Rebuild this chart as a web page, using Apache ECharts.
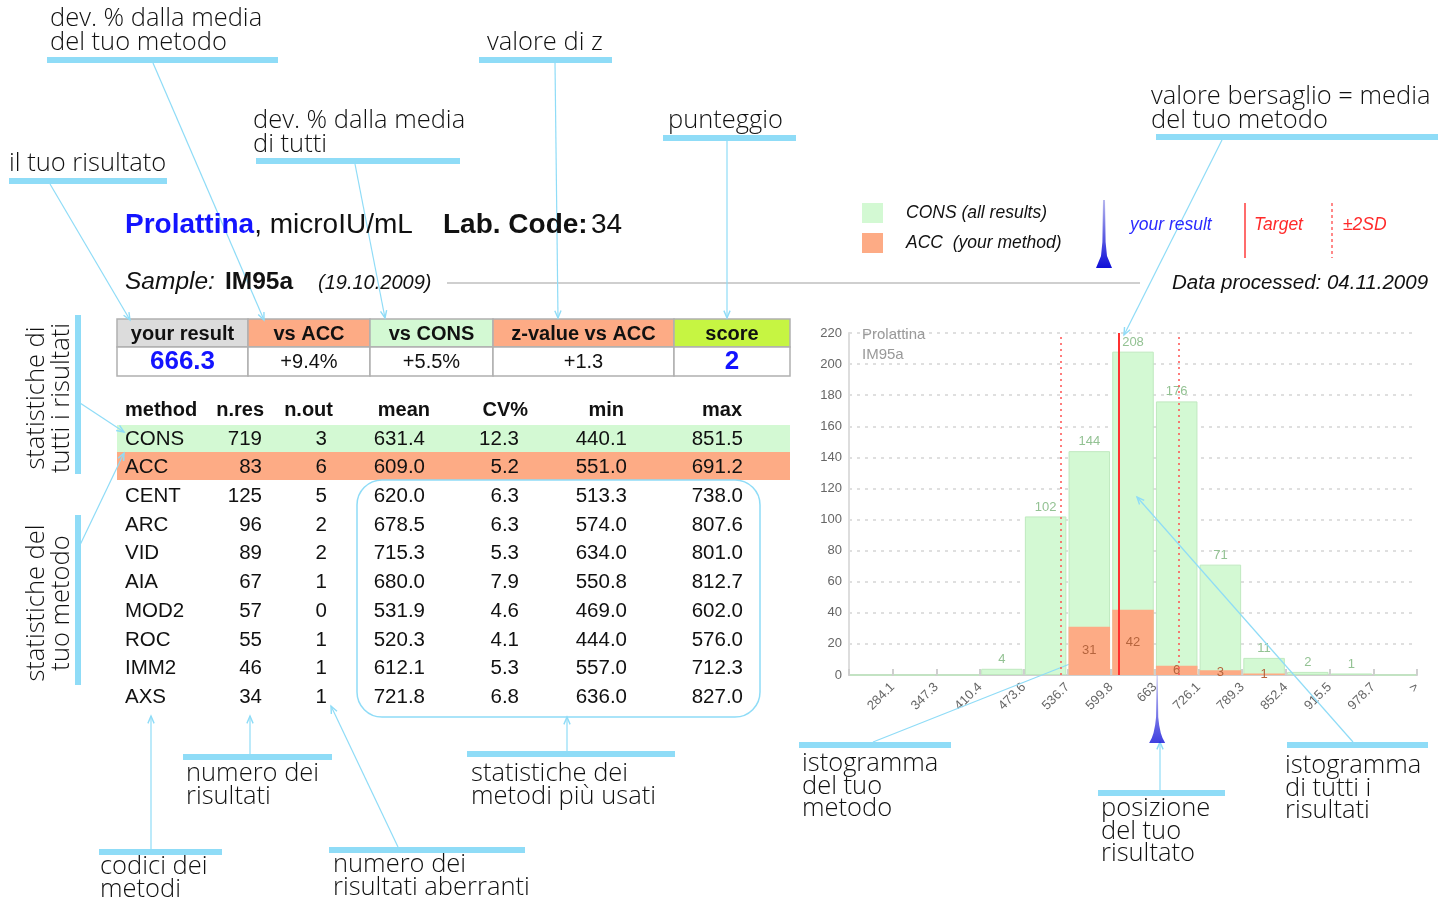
<!DOCTYPE html>
<html><head><meta charset="utf-8">
<script src="https://cdn.jsdelivr.net/npm/echarts@6/dist/echarts.min.js"></script>
<style>html,body{margin:0;padding:0;background:#fff}#c{width:1455px;height:904px}</style>
</head><body><div id="c"></div><script>
// ---------- data ----------
const binEdges = [284.1, 347.3, 410.4, 473.6, 536.7, 599.8, 663, 726.1, 789.3, 852.4, 915.5, 978.7, 1041.8];
const binCategories = ['b1','b2','b3','b4','b5','b6','b7','b8','b9','b10','b11','b12','b13'];
const consCounts = [0, 0, 0, 4, 102, 144, 208, 176, 71, 11, 2, 1, 0];
const accCounts  = [0, 0, 0, 0, 0, 31, 42, 6, 3, 1, 0, 0, 0];
const axisMin = 221.0, axisMax = 1041.8;
const yourResult = 666.3;
const targetValue = 611;
const sdLow = 527, sdHigh = 698;
const yTicks = {min: 0, max: 220, interval: 20};

const summaryHeaders = ['your result', 'vs ACC', 'vs CONS', 'z-value vs ACC', 'score'];
const summaryValues = ['666.3', '+9.4%', '+5.5%', '+1.3', '2'];

const statHeaders = ['method', 'n.res', 'n.out', 'mean', 'CV%', 'min', 'max'];
const methods = ['CONS', 'ACC', 'CENT', 'ARC', 'VID', 'AIA', 'MOD2', 'ROC', 'IMM2', 'AXS'];
const nRes  = ['719', '83', '125', '96', '89', '67', '57', '55', '46', '34'];
const nOut  = ['3', '6', '5', '2', '2', '1', '0', '1', '1', '1'];
const means = ['631.4', '609.0', '620.0', '678.5', '715.3', '680.0', '531.9', '520.3', '612.1', '721.8'];
const cvs   = ['12.3', '5.2', '6.3', '6.3', '5.3', '7.9', '4.6', '4.1', '5.3', '6.8'];
const mins  = ['440.1', '551.0', '513.3', '574.0', '634.0', '550.8', '469.0', '444.0', '557.0', '636.0'];
const maxs  = ['851.5', '691.2', '738.0', '807.6', '801.0', '812.7', '602.0', '576.0', '712.3', '827.0'];

// ---------- styles ----------
const F = '"Liberation Sans", Arial, Helvetica, sans-serif';
const AF = '"Open Sans", "Noto Sans", sans-serif';
const AFONT = '300 25.5px ' + AF;
const GREEN = '#d3f9d3', ORANGE = '#fdab85', LIME = '#c6f542', GREY = '#dcdcdc';
const BLUE_ANN = '#8fdcf7';
const SPIKE = 'path://M48.5,0 L51.5,0 L53,62 Q57,88 72,100 L28,100 Q43,88 47,62 Z';
function spikeGrad() {
  return new echarts.graphic.LinearGradient(0, 0, 0, 1, [{offset: 0, color: '#b8b8ee'}, {offset: 1, color: '#1010d8'}]);
}

const g = [];
function txt(x, y, text, font, fill, align, extra) {
  g.push(Object.assign({type: 'text', x: x, y: y, z: 10,
    style: {text: text, font: font, fill: fill || '#111', textAlign: align || 'left', textVerticalAlign: 'middle'}}, extra || {}));
}
function rect(x, y, w, h, fill, stroke, lw, r) {
  g.push({type: 'rect', shape: {x: x, y: y, width: w, height: h, r: r || 0}, z: 1,
    style: {fill: fill || 'none', stroke: stroke || null, lineWidth: lw || 0}});
}
function line(x1, y1, x2, y2, stroke, lw, dash) {
  g.push({type: 'line', shape: {x1: x1, y1: y1, x2: x2, y2: y2}, z: 3,
    style: {stroke: stroke, lineWidth: lw, lineDash: dash || null}});
}
function arrow(x1, y1, x2, y2) {
  line(x1, y1, x2, y2, BLUE_ANN, 1.2);
  const a = Math.atan2(y2 - y1, x2 - x1), L = 8, s = 0.4;
  g.push({type: 'polyline', z: 3, shape: {points: [
      [x2 - L * Math.cos(a - s), y2 - L * Math.sin(a - s)], [x2, y2],
      [x2 - L * Math.cos(a + s), y2 - L * Math.sin(a + s)]]},
    style: {stroke: BLUE_ANN, lineWidth: 1.4, fill: 'none'}});
}
function ann(lines, x, y0, lh, bar, arr) {
  lines.forEach((t, i) => txt(x, y0 + i * lh, t, AFONT, '#111'));
  rect(bar[0], bar[2] - 3, bar[1] - bar[0], 6, BLUE_ANN);
  if (arr) arrow(arr[0], arr[1], arr[2], arr[3]);
}

// ---------- header ----------
g.push({type: 'text', x: 125, y: 225, z: 10, style: {
  text: '{a|Prolattina}{b|, microIU/mL}', textVerticalAlign: 'middle',
  rich: {a: {fill: '#1414ff', fontWeight: 'bold', fontSize: 28, fontFamily: F},
         b: {fill: '#111', fontSize: 28, fontFamily: F}}}});
g.push({type: 'text', x: 443, y: 225, z: 10, style: {
  text: '{a|Lab. Code:} {b|34}', textVerticalAlign: 'middle',
  rich: {a: {fill: '#111', fontWeight: 'bold', fontSize: 28, fontFamily: F},
         b: {fill: '#111', fontSize: 28, fontFamily: F}}}});
txt(125, 282, 'Sample:', 'italic 24.5px ' + F, '#111');
txt(225, 282, 'IM95a', 'bold 24.5px ' + F, '#111');
txt(318, 283, '(19.10.2009)', 'italic 20px ' + F, '#111');
line(447, 283, 1140, 283, '#cfcfcf', 2);
txt(1172, 283, 'Data processed: 04.11.2009', 'italic 20.5px ' + F, '#111');

// legend
rect(862, 203, 21, 20, GREEN);
rect(862, 233, 21, 20, ORANGE);
txt(906, 213, 'CONS (all results)', 'italic 17.5px ' + F, '#111');
txt(906, 243, 'ACC  (your method)', 'italic 17.5px ' + F, '#111');
g.push({type: 'polygon', z: 5, shape: {points: [[1103, 200], [1105, 200], [1105.6, 242], [1107, 256], [1112, 268],
    [1096, 268], [1101, 256], [1102.4, 242]]},
  style: {fill: spikeGrad()}});
txt(1130, 225, 'your result', 'italic 17.5px ' + F, '#2a2aff');
line(1245, 203, 1245, 258, '#ff3b3b', 1.5);
txt(1254, 225, 'Target', 'italic 17.5px ' + F, '#ff2a2a');
line(1332, 203, 1332, 258, '#ff3b3b', 1.2, [3, 3]);
txt(1343, 225, '±2SD', 'italic 17.5px ' + F, '#ff2a2a');

// ---------- summary table ----------
const sx = [117, 248, 370, 493, 674, 790];
const sFills = [GREY, ORANGE, GREEN, ORANGE, LIME];
for (let i = 0; i < 5; i++) {
  rect(sx[i], 319, sx[i + 1] - sx[i], 28, sFills[i], '#b0b0b0', 1.5);
  rect(sx[i], 347, sx[i + 1] - sx[i], 29, '#fff', '#b0b0b0', 1.5);
  const cx = (sx[i] + sx[i + 1]) / 2;
  txt(cx, 334, summaryHeaders[i], 'bold 20px ' + F, '#111', 'center');
  const big = (i === 0 || i === 4);
  txt(cx, 362, summaryValues[i], (big ? 'bold 26px ' : '20px ') + F, big ? '#1414ff' : '#111', 'center');
}

// ---------- stats table ----------
rect(117, 425, 673, 27, GREEN);
rect(117, 452, 673, 28, ORANGE);
const headX = [125, 264, 333, 430, 528, 624, 742];
statHeaders.forEach((h, i) => txt(headX[i], 410, h, 'bold 20px ' + F, '#111', i === 0 ? 'left' : 'right'));
const colX = [262, 327, 425, 519, 627, 743];
const cols = [nRes, nOut, means, cvs, mins, maxs];
methods.forEach((m, r) => {
  const y = 439 + r * 28.7;
  txt(125, y, m, '20.5px ' + F, '#111');
  cols.forEach((c, k) => txt(colX[k], y, c[r], '20.5px ' + F, '#111', 'right'));
});
rect(357, 480, 403, 237, 'none', BLUE_ANN, 1.5, 25);

// ---------- annotations ----------
ann(['dev. % dalla media', 'del tuo metodo'], 50, 19, 24, [47, 278, 60], [153, 63, 264, 320]);
ann(['valore di z'], 487, 43, 24, [479, 612, 60], [555, 63, 558, 318]);
ann(['dev. % dalla media', 'di tutti'], 253, 121, 24, [256, 460, 161], [355, 164, 385, 318]);
ann(['il tuo risultato'], 9, 164, 24, [9, 167, 181], [50, 184, 130, 320]);
ann(['punteggio'], 668, 121, 24, [663, 796, 138], [727, 141, 727, 318]);
ann(['valore bersaglio = media', 'del tuo metodo'], 1151, 97, 24, [1156, 1438, 137], [1222, 140, 1124, 335]);
ann(['numero dei', 'risultati'], 186, 774, 23, [183, 332, 757], [250, 754, 250, 716]);
ann(['codici dei', 'metodi'], 100, 867, 23, [99, 222, 852], [151, 849, 151, 716]);
ann(['numero dei', 'risultati aberranti'], 333, 865, 23, [329, 525, 850], [398, 847, 331, 706]);
ann(['statistiche dei', 'metodi più usati'], 471, 774, 23, [467, 675, 754], [567, 751, 567, 717]);
ann(['istogramma', 'del tuo', 'metodo'], 802, 764, 22.5, [799, 951, 745], [873, 742, 1095, 654]);
ann(['posizione', 'del tuo', 'risultato'], 1101, 809, 22.5, [1098, 1225, 793], [1160, 790, 1160, 742]);
ann(['istogramma', 'di tutti i', 'risultati'], 1285, 766, 22.5, [1287, 1428, 745], [1353, 742, 1137, 497]);
// vertical annotations
g.push({type: 'text', x: 49, y: 398, rotation: Math.PI / 2, z: 10, style: {
  text: 'statistiche di\ntutti i risultati', font: AFONT, fill: '#111', textAlign: 'center', textVerticalAlign: 'middle', lineHeight: 25}});
g.push({type: 'text', x: 49, y: 603, rotation: Math.PI / 2, z: 10, style: {
  text: 'statistiche del\ntuo metodo', font: AFONT, fill: '#111', textAlign: 'center', textVerticalAlign: 'middle', lineHeight: 25}});
rect(75, 315, 6, 159, BLUE_ANN);
rect(75, 515, 6, 170, BLUE_ANN);
arrow(80, 403, 124, 432);
arrow(80, 545, 124, 453);

// plot caption
txt(862, 335, 'Prolattina', '15px ' + F, '#999');
txt(862, 355, 'IM95a', '15px ' + F, '#999');

// ---------- chart ----------
const chart = echarts.init(document.getElementById('c'), null, {renderer: 'canvas'});
chart.setOption({
  animation: false,
  backgroundColor: '#fff',
  grid: {left: 849, top: 333, width: 568, height: 342, containLabel: false},
  xAxis: [
    {type: 'category', data: binCategories, boundaryGap: true,
     axisLine: {lineStyle: {color: '#cfcfcf', width: 2}},
     axisTick: {show: true, inside: true, length: 6, lineStyle: {color: '#cfcfcf', width: 2}},
     axisLabel: {show: false}, splitLine: {show: false}},
    {type: 'value', position: 'bottom', min: axisMin, max: axisMax,
     axisLine: {show: false}, axisTick: {show: false}, splitLine: {show: false},
     axisLabel: {show: true, customValues: binEdges, rotate: 45, margin: 10,
       color: '#666', fontSize: 13, fontFamily: F,
       formatter: v => (v >= axisMax - 0.01 ? '>' : String(v))}}
  ],
  yAxis: {type: 'value', min: yTicks.min, max: yTicks.max, interval: yTicks.interval,
    axisLine: {show: true, lineStyle: {color: '#dddddd', width: 2}},
    axisTick: {show: false},
    axisLabel: {color: '#666', fontSize: 13, fontFamily: F, margin: 7},
    splitLine: {show: true, lineStyle: {color: '#d5d5d5', type: [3, 5], width: 1.5}}},
  series: [
    {type: 'bar', name: 'CONS', xAxisIndex: 0, data: consCounts, barCategoryGap: '5%',
     itemStyle: {color: GREEN, borderColor: '#bfe9bf', borderWidth: 1},
     label: {show: true, position: 'top', distance: 3, color: '#93c293', fontSize: 13, fontFamily: F,
       formatter: p => (p.value ? p.value : '')}, z: 2},
    {type: 'bar', name: 'ACC', xAxisIndex: 0, data: accCounts, barGap: '-100%', barCategoryGap: '5%',
     itemStyle: {color: ORANGE},
     label: {show: true, position: 'inside', color: '#b5643d', fontSize: 13, fontFamily: F,
       formatter: p => (p.value ? p.value : '')}, z: 3},
    {type: 'line', xAxisIndex: 1, data: [], z: 6,
     markLine: {silent: true, symbol: 'none', label: {show: false}, animation: false,
       data: [
         {xAxis: targetValue, lineStyle: {color: '#ff3030', width: 2, type: 'solid'}},
         {xAxis: sdLow, lineStyle: {color: '#ff5050', width: 1.5, type: [2, 4]}},
         {xAxis: sdHigh, lineStyle: {color: '#ff5050', width: 1.5, type: [2, 4]}}
       ]}},
    {type: 'scatter', xAxisIndex: 1, data: [[yourResult, 0]], clip: false, z: 7,
     symbol: SPIKE, symbolSize: [16, 68], symbolOffset: [0, 34], silent: true,
     itemStyle: {color: spikeGrad()}}
  ],
  graphic: g
});
</script></body></html>
